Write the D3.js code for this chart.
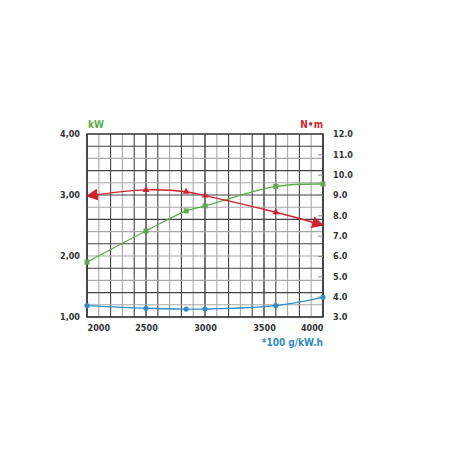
<!DOCTYPE html>
<html>
<head>
<meta charset="utf-8">
<script src="https://cdn.jsdelivr.net/npm/d3@7"></script>
<style>
  body { margin: 0; background: #fff; }
  svg { display: block; }
  text { font-family: "Liberation Sans Narrow", "DejaVu Sans Condensed", "Liberation Sans", sans-serif; font-weight: bold; }
</style>
</head>
<body>
<svg id="chart"></svg>
<script>
// engine speed (rpm) where the curves are measured
const rpm = [2000, 2500, 2840, 3000, 3600, 4000];
// power, kW (left axis)
const power = [1.90, 2.41, 2.74, 2.82, 3.14, 3.18];
// torque, N•m (right axis)
const torque = [8.95, 9.25, 9.16, 8.97, 8.15, 7.52];
// specific fuel consumption, *100 g/kW.h (right axis)
const fuel = [3.56, 3.43, 3.39, 3.39, 3.56, 3.97];

const xTicks = [2000, 2500, 3000, 3500, 4000];
const leftTicks = [1, 2, 3, 4];
const rightTicks = [3, 4, 5, 6, 7, 8, 9, 10, 11, 12];

const W = 452, H = 452;
const margin = { top: 134, right: 129, bottom: 135, left: 87 };
const width = W - margin.left - margin.right;
const height = H - margin.top - margin.bottom;

const green = "#5aab4a", red = "#d41f2c", blue = "#2f8ccb";

const svg = d3.select("#chart").attr("width", W).attr("height", H);

const defs = svg.append("defs");
defs.append("marker")
  .attr("id", "arrow")
  .attr("viewBox", "0 0 10 10")
  .attr("refX", 9).attr("refY", 5)
  .attr("markerUnits", "userSpaceOnUse")
  .attr("markerWidth", 12).attr("markerHeight", 12)
  .attr("orient", "auto-start-reverse")
  .append("path")
  .attr("d", "M0,0L10,5L0,10Z")
  .attr("fill", red);

const g = svg.append("g").attr("transform", `translate(${margin.left},${margin.top})`);

const x = d3.scaleLinear().domain([2000, 4000]).range([0, width]);
const yL = d3.scaleLinear().domain([1, 4]).range([height, 0]);
const yR = d3.scaleLinear().domain([3, 12]).range([height, 0]);

// grid: 100 rpm columns, 0.2 kW rows
const cols = d3.range(2000, 4001, 100);
const rows = d3.range(0, 16).map(i => 1 + i * 0.2);

g.append("g").selectAll("line")
  .data(cols)
  .join("line")
  .attr("x1", d => x(d)).attr("x2", d => x(d))
  .attr("y1", 0).attr("y2", height)
  .attr("stroke", (d, i) => i % 5 === 0 ? "#555" : (i % 2 ? "#a8a8a8" : "#444"))
  .attr("stroke-width", (d, i) => i % 5 === 0 ? 1.6 : 1.1);

g.append("g").selectAll("line")
  .data(rows)
  .join("line")
  .attr("x1", 0).attr("x2", width)
  .attr("y1", d => yL(d)).attr("y2", d => yL(d))
  .attr("stroke", (d, i) => i % 2 ? "#a8a8a8" : "#444")
  .attr("stroke-width", 1.1);

g.append("rect")
  .attr("width", width).attr("height", height)
  .attr("fill", "none").attr("stroke", "#333").attr("stroke-width", 1.4);

// axes
const axL = g.append("g")
  .call(d3.axisLeft(yL).tickValues(leftTicks)
    .tickFormat(d => d.toFixed(2).replace(".", ","))
    .tickSize(0).tickPadding(7));
const axR = g.append("g")
  .attr("transform", `translate(${width},0)`)
  .call(d3.axisRight(yR).tickValues(rightTicks)
    .tickFormat(d3.format(".1f"))
    .tickSizeInner(-5).tickSizeOuter(0).tickPadding(10));
const axB = g.append("g")
  .attr("transform", `translate(0,${height})`)
  .call(d3.axisBottom(x).tickValues(xTicks).tickFormat(d3.format("d"))
    .tickSize(0).tickPadding(8));

[axL, axR, axB].forEach(a => {
  a.select(".domain").remove();
  a.selectAll("text").attr("fill", "#333").attr("font-size", 9);
});
axR.selectAll(".tick line").attr("stroke", "#888").attr("stroke-width", 1)
  .filter(d => d === 3 || d === 12).remove();
axB.selectAll(".tick text")
  .attr("text-anchor", d => d === 2000 ? "start" : d === 4000 ? "end" : "middle");

// curves
const pts = vals => rpm.map((r, i) => [r, vals[i]]);
const curve = d3.curveCatmullRom.alpha(0.5);
const lineL = d3.line().x(d => x(d[0])).y(d => yL(d[1])).curve(curve);
const lineR = d3.line().x(d => x(d[0])).y(d => yR(d[1])).curve(curve);

// fuel consumption (blue)
g.append("path").datum(pts(fuel))
  .attr("d", lineR).attr("fill", "none").attr("stroke", blue).attr("stroke-width", 1.3);
g.append("g").selectAll("circle").data(pts(fuel)).join("circle")
  .attr("cx", d => x(d[0])).attr("cy", d => yR(d[1])).attr("r", 2.6).attr("fill", blue);

// power (green)
g.append("path").datum(pts(power))
  .attr("d", lineL).attr("fill", "none").attr("stroke", green).attr("stroke-width", 1.3);
g.append("g").selectAll("rect").data(pts(power)).join("rect")
  .attr("x", d => x(d[0]) - 2.5).attr("y", d => yL(d[1]) - 2.5)
  .attr("width", 5).attr("height", 5).attr("fill", green);

// torque (red) with arrow ends
g.append("path").datum(pts(torque))
  .attr("d", lineR).attr("fill", "none").attr("stroke", red).attr("stroke-width", 1.4)
  .attr("marker-start", "url(#arrow)").attr("marker-end", "url(#arrow)");
g.append("g").selectAll("path").data(pts(torque).slice(1, -1)).join("path")
  .attr("d", d3.symbol(d3.symbolTriangle, 20))
  .attr("transform", d => `translate(${x(d[0])},${yR(d[1])})`)
  .attr("fill", red);

// unit labels
svg.append("text").attr("x", margin.left + 1).attr("y", 128)
  .attr("fill", green).attr("font-size", 10).text("kW");
svg.append("text").attr("x", margin.left + width).attr("y", 128)
  .attr("text-anchor", "end").attr("fill", red).attr("font-size", 10).text("N•m");
svg.append("text").attr("x", margin.left + width).attr("y", 346)
  .attr("text-anchor", "end").attr("fill", blue).attr("font-size", 10).text("*100 g/kW.h");
</script>
</body>
</html>
